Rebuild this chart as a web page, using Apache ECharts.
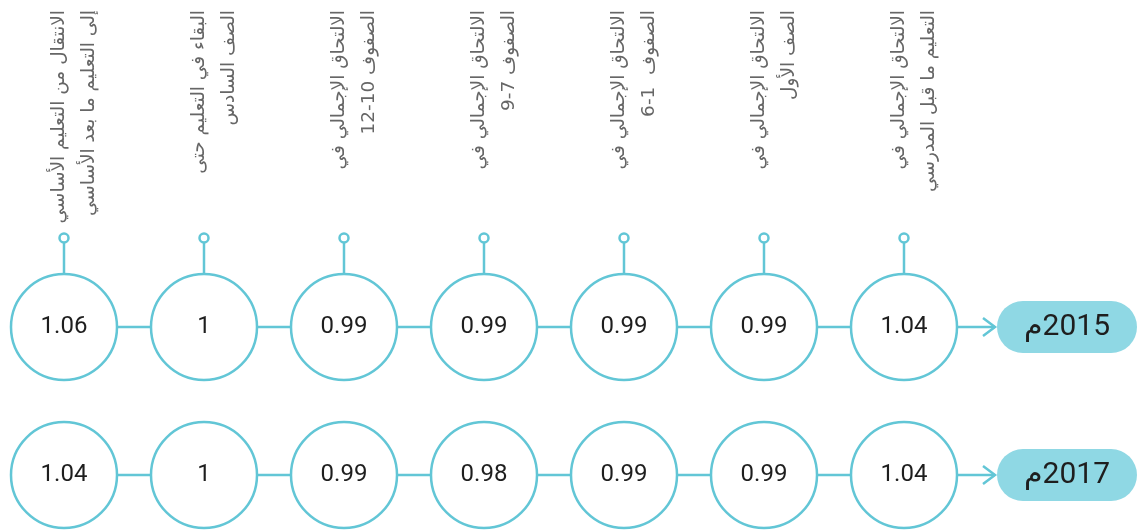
<!DOCTYPE html>
<html dir="rtl">
<head>
<meta charset="utf-8">
<script src="https://cdn.jsdelivr.net/npm/echarts@6/dist/echarts.min.js"></script>
<style>
    html, body { margin: 0; padding: 0; background: #fff; }
    #chart { width: 1141px; height: 530px; }
</style>
</head>
<body>
<div id="chart"></div>
<script>
// مؤشرات التكافؤ
const categories = [
    'الانتقال من التعليم الأساسي\nإلى التعليم ما بعد الأساسي',
    'البقاء في التعليم حتى\nالصف السادس',
    'الالتحاق الإجمالي في\nالصفوف 10-12',
    'الالتحاق الإجمالي في\nالصفوف 7-9',
    'الالتحاق الإجمالي في\nالصفوف  1-6',
    'الالتحاق الإجمالي في\nالصف الأول',
    'الالتحاق الإجمالي في\nالتعليم ما قبل المدرسي'
]
const years = ['2017م', '2015م']
const values2015 = [1.06, 1, 0.99, 0.99, 0.99, 0.99, 1.04]
const values2017 = [1.04, 1, 0.99, 0.98, 0.99, 0.99, 1.04]

const teal = '#62c6d6'
const R = 53

const rowData = (vals, year) => vals.map((v, i) => [i, year, v])

const rowSeries = (vals, year) => ({
    type: 'line',
    clip: false,
    showAllSymbol: true,
    symbol: 'circle',
    symbolSize: R * 2,
    encode: { x: 0, y: 1 },
    data: rowData(vals, year),
    lineStyle: { color: teal, width: 2.5 },
    itemStyle: { color: '#fff', borderColor: teal, borderWidth: 2.5 },
    label: {
        show: true,
        position: 'inside',
        formatter: p => String(p.value[2]),
        fontFamily: 'Roboto, DejaVu Sans',
        fontSize: 24,
        color: '#1e1e1e'
    },
    z: 2
})

// الوصلات العلوية والعناوين
const stemSeries = {
    type: 'custom',
    clip: false,
    data: categories.map((c, i) => [i, years[1]]),
    encode: { x: 0, y: 1 },
    renderItem: (params, api) => {
        const idx = api.value(0)
        const p = api.coord([idx, years[1]])
        return {
            type: 'group',
            children: [
                { type: 'line', shape: { x1: p[0], y1: p[1] - R, x2: p[0], y2: p[1] - 84.5 },
                  style: { stroke: teal, lineWidth: 2.5 } },
                { type: 'circle', shape: { cx: p[0], cy: p[1] - 89, r: 4.5 },
                  style: { stroke: teal, fill: '#fff', lineWidth: 2.5 } },
                { type: 'text', x: p[0] + 10, y: 10, rotation: Math.PI / 2,
                  style: {
                      text: categories[idx],
                      align: 'right',
                      verticalAlign: 'middle',
                      fontFamily: 'DejaVu Sans',
                      fontSize: 18.5,
                      lineHeight: 30,
                      fill: '#666666'
                  } }
            ]
        }
    },
    z: 1
}

// الأسهم
const arrowSeries = {
    type: 'custom',
    clip: false,
    data: years.map(y => [categories.length - 1, y]),
    encode: { x: 0, y: 1 },
    renderItem: (params, api) => {
        const p = api.coord([api.value(0), api.value(1)])
        const tip = p[0] + 91
        return {
            type: 'group',
            children: [
                { type: 'line', shape: { x1: p[0] + R, y1: p[1], x2: tip, y2: p[1] },
                  style: { stroke: teal, lineWidth: 2.5 } },
                { type: 'polyline', shape: { points: [[tip - 12, p[1] - 9], [tip, p[1]], [tip - 12, p[1] + 9]] },
                  style: { stroke: teal, fill: 'none', lineWidth: 2.5 } }
            ]
        }
    },
    z: 1
}

const option = {
    animation: false,
    backgroundColor: '#fff',
    grid: {
        left: 64,
        right: 237,
        top: 327,
        bottom: 55,
        containLabel: false,
        outerBoundsMode: 'none'
    },
    xAxis: {
        type: 'category',
        position: 'top',
        data: categories,
        boundaryGap: false,
        axisLine: { show: false },
        axisTick: { show: false },
        splitLine: { show: false },
        axisLabel: { show: false }
    },
    yAxis: {
        type: 'category',
        position: 'right',
        data: years,
        boundaryGap: false,
        axisLine: { show: false },
        axisTick: { show: false },
        splitLine: { show: false },
        axisLabel: {
            margin: 163,
            align: 'center',
            verticalAlign: 'middle',
            width: 140,
            height: 52,
            lineHeight: 52,
            backgroundColor: '#8fd8e4',
            borderRadius: 26,
            fontFamily: 'Roboto, DejaVu Sans',
            fontSize: 30,
            color: '#1e1e1e'
        }
    },
    series: [
        stemSeries,
        arrowSeries,
        rowSeries(values2015, years[1]),
        rowSeries(values2017, years[0])
    ]
}

const myChart = echarts.init(document.getElementById('chart'))
myChart.setOption(option)
window.onresize = () => myChart.resize()
</script>
</body>
</html>
